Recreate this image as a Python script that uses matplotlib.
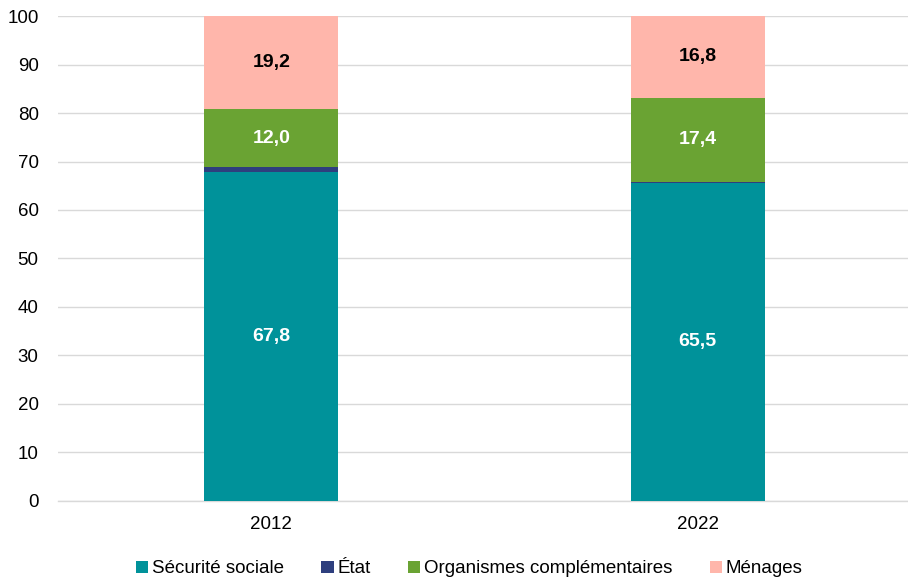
import matplotlib.pyplot as plt
import numpy as np

plt.rcParams['font.family'] = ['Liberation Sans', 'DejaVu Sans']

years = ['2012', '2022']
securite_sociale = [67.8, 65.5]
etat = [1.0, 0.3]
organismes = [12.0, 17.4]
menages = [19.2, 16.8]

series = [
    ('Sécurité sociale', securite_sociale, '#00929A', 'white'),
    ('État', etat, '#2E3F7E', None),
    ('Organismes complémentaires', organismes, '#6AA333', 'white'),
    ('Ménages', menages, '#FFB6AB', 'black'),
]

fig, ax = plt.subplots(figsize=(9.08, 5.82), dpi=100)
fig.subplots_adjust(left=0.064, right=1.003, top=0.972, bottom=0.14)

x = np.arange(len(years))
bottom = np.zeros(len(years))
for name, vals, color, txt in series:
    vals = np.array(vals)
    ax.bar(x, vals, width=0.314, bottom=bottom, color=color, label=name, zorder=3)
    if txt:
        for xi, b, v in zip(x, bottom, vals):
            ax.text(xi, b + v / 2, f'{v:.1f}'.replace('.', ','), ha='center', va='center',
                    color=txt, fontsize=14, fontweight='bold', zorder=4)
    bottom += vals

ax.set_xlim(-0.5, 1.5)
ax.set_ylim(0, 100)
ax.set_yticks(range(0, 101, 10))
ax.set_xticks(x)
ax.set_xticklabels(years)
ax.tick_params(axis='both', labelsize=13.5, length=0, colors='#000000')
ax.tick_params(axis='y', pad=14)
ax.tick_params(axis='x', pad=11)
ax.grid(axis='y', color='#D9D9D9', linewidth=1, zorder=0)
for s in ['top', 'right', 'left']:
    ax.spines[s].set_visible(False)
ax.spines['bottom'].set_color('#D9D9D9')
ax.spines['bottom'].set_linewidth(1)

fig.legend(loc='upper center', bbox_to_anchor=(0.517, 0.037), ncol=4, frameon=False,
           fontsize=13.5, handlelength=0.65, handleheight=0.65, handletextpad=0.2,
           columnspacing=2.0, borderaxespad=0, borderpad=0)

fig.savefig('out.png')
